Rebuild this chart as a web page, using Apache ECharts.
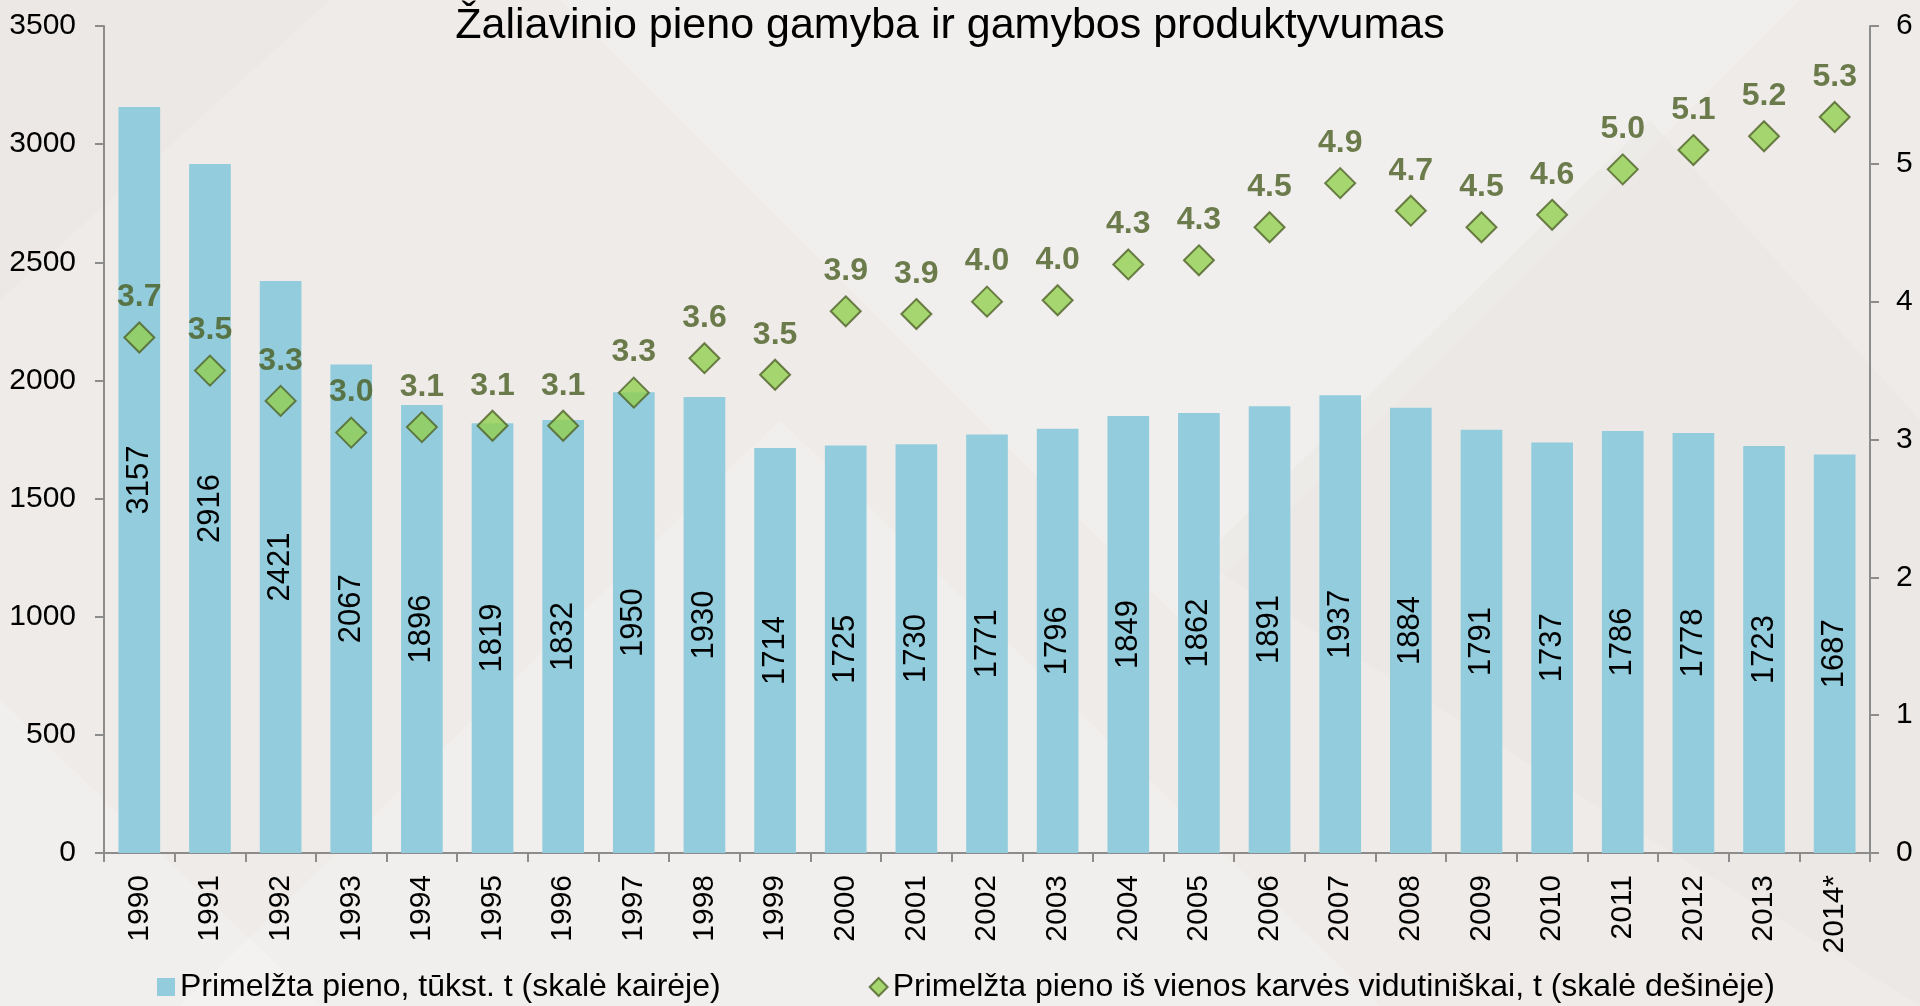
<!DOCTYPE html>
<html>
<head>
<meta charset="utf-8">
<title>Žaliavinio pieno gamyba ir gamybos produktyvumas</title>
<script src="https://cdn.jsdelivr.net/npm/echarts@6/dist/echarts.min.js"></script>
<style>
  html, body { margin: 0; padding: 0; background: #eeebe8; }
  #chart { width: 1920px; height: 1006px; }
</style>
</head>
<body>
<div id="chart"></div>
<script>
// metai
const years = ['1990', '1991', '1992', '1993', '1994', '1995', '1996', '1997', '1998', '1999',
  '2000', '2001', '2002', '2003', '2004', '2005', '2006', '2007', '2008', '2009',
  '2010', '2011', '2012', '2013', '2014*']

// primelžta pieno, tūkst. t
const milkProduction = [3157, 2916, 2421, 2067, 1896, 1819, 1832, 1950, 1930, 1714,
  1725, 1730, 1771, 1796, 1849, 1862, 1891, 1937, 1884, 1791,
  1737, 1786, 1778, 1723, 1687]

// primelžta iš vienos karvės, t (taškų vieta)
const yieldPerCow = [3.74, 3.50, 3.28, 3.05, 3.09, 3.10, 3.10, 3.34, 3.59, 3.47,
  3.93, 3.91, 4.00, 4.01, 4.27, 4.30, 4.54, 4.86, 4.66, 4.54,
  4.63, 4.96, 5.10, 5.20, 5.34]

// užrašai virš taškų
const yieldLabels = ['3.7', '3.5', '3.3', '3.0', '3.1', '3.1', '3.1', '3.3', '3.6', '3.5',
  '3.9', '3.9', '4.0', '4.0', '4.3', '4.3', '4.5', '4.9', '4.7', '4.5',
  '4.6', '5.0', '5.1', '5.2', '5.3']

const leftTicks = [0, 3500, 500]
const rightTicks = [0, 6, 1]

const FONT = '"Liberation Sans", Arial, sans-serif'
const axisGrey = '#8c8c8c'

const chart = echarts.init(document.getElementById('chart'))

// fono trikampiai
const bgShapes = [
  [[560, 0], [1180, 620], [1800, 0]],
  [[0, 300], [330, 0], [0, 0]],
  [[180, 1006], [780, 420], [1380, 1006]],
  [[1200, 560], [1650, 120], [1920, 420], [1920, 1006]],
  [[0, 700], [320, 1006], [0, 1006]]
]

const option = {
  backgroundColor: '#eeebe8',
  textStyle: { fontFamily: FONT },
  graphic: bgShapes.map((pts, i) => ({
    type: 'polygon',
    z: -10,
    silent: true,
    shape: { points: pts },
    style: { fill: i % 2 === 0 ? 'rgba(255,255,255,0.22)' : 'rgba(230,226,221,0.3)' }
  })),
  title: {
    text: 'Žaliavinio pieno gamyba ir gamybos produktyvumas',
    left: 945,
    textAlign: 'center',
    top: 0,
    textStyle: { fontSize: 43, fontWeight: 'normal', color: '#000', fontFamily: FONT }
  },
  legend: {
    bottom: -2,
    left: 152,
    itemGap: 148,
    itemWidth: 18,
    itemHeight: 18,
    textStyle: { fontSize: 32, color: '#000', fontFamily: FONT },
    data: [
      { name: 'Primelžta pieno, tūkst. t (skalė kairėje)', icon: 'rect' },
      { name: 'Primelžta pieno iš vienos karvės vidutiniškai, t (skalė dešinėje)', icon: 'diamond' }
    ]
  },
  grid: { left: 104, right: 50, top: 26, bottom: 153 },
  xAxis: {
    type: 'category',
    data: years,
    axisLine: { lineStyle: { color: axisGrey, width: 2 } },
    axisTick: { show: true, length: 9, lineStyle: { color: axisGrey, width: 2 } },
    axisLabel: { rotate: 90, fontSize: 30, color: '#000', margin: 22, fontFamily: FONT }
  },
  yAxis: [
    {
      type: 'value',
      min: leftTicks[0],
      max: leftTicks[1],
      interval: leftTicks[2],
      position: 'left',
      splitLine: { show: false },
      axisLine: { show: true, lineStyle: { color: axisGrey, width: 2 } },
      axisTick: { show: true, length: 9, lineStyle: { color: axisGrey, width: 2 } },
      axisLabel: { fontSize: 30, color: '#000', margin: 28, fontFamily: FONT, formatter: v => String(v) }
    },
    {
      type: 'value',
      min: rightTicks[0],
      max: rightTicks[1],
      interval: rightTicks[2],
      position: 'right',
      splitLine: { show: false },
      axisLine: { show: true, lineStyle: { color: axisGrey, width: 2 } },
      axisTick: { show: true, length: 9, lineStyle: { color: axisGrey, width: 2 } },
      axisLabel: { fontSize: 30, color: '#000', margin: 26, fontFamily: FONT }
    }
  ],
  series: [
    {
      name: 'Primelžta pieno, tūkst. t (skalė kairėje)',
      type: 'bar',
      yAxisIndex: 0,
      data: milkProduction,
      barWidth: '59%',
      itemStyle: { color: '#93cddd' },
      label: {
        show: true,
        position: 'inside',
        rotate: 90,
        fontSize: 31,
        color: '#000',
        fontFamily: FONT
      }
    },
    {
      name: 'Primelžta pieno iš vienos karvės vidutiniškai, t (skalė dešinėje)',
      type: 'scatter',
      yAxisIndex: 1,
      data: yieldPerCow,
      symbol: 'diamond',
      symbolSize: 30,
      itemStyle: { color: '#92d050', borderColor: '#4f6228', borderWidth: 2 },
      label: {
        show: true,
        position: 'top',
        distance: 8,
        fontSize: 32,
        fontWeight: 'bold',
        color: '#4a5e22',
        fontFamily: FONT,
        formatter: p => yieldLabels[p.dataIndex]
      },
      z: 5
    }
  ]
}

chart.setOption(option)
</script>
</body>
</html>
